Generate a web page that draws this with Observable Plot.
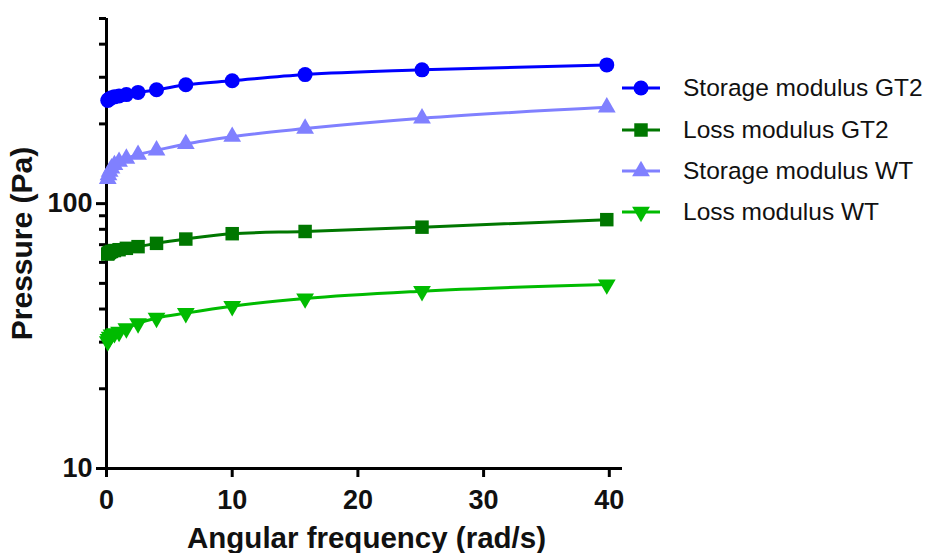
<!DOCTYPE html>
<html><head><meta charset="utf-8">
<script src="https://cdn.jsdelivr.net/npm/d3@7"></script>
<script src="https://cdn.jsdelivr.net/npm/@observablehq/plot@0.6"></script>
<style>
body{margin:0;background:#fff;font-family:"Liberation Sans",Arial,sans-serif;}
#wrap{position:relative;width:934px;height:553px;overflow:hidden;}
.item{position:absolute;left:622px;display:flex;align-items:center;white-space:nowrap;font-size:24.5px;color:#111;height:30px;}
.item span{margin-left:21px;}
</style></head><body><div id="wrap"></div>
<script>
const freq = [0.1, 0.158, 0.251, 0.398, 0.631, 1, 1.58, 2.51, 3.98, 6.31, 10, 15.8, 25.1, 39.8];
const storageGT2 = [245, 247, 249, 251, 253, 255, 258, 263, 269, 281, 291, 307, 320, 334];
const lossGT2 = [64.5, 65, 65.5, 66, 66.5, 67, 67.8, 68.8, 70.8, 73.5, 77, 78.5, 81.5, 87];
const storageWT = [124, 128, 132, 136, 140, 144, 148, 153, 159, 168, 179, 192, 210, 231];
const lossWT = [30.2, 30.8, 31.4, 32, 32.4, 32.8, 33.8, 35.3, 37, 38.6, 41, 43.8, 46.7, 49.5];

const seriesNames = ["Storage modulus GT2", "Loss modulus GT2", "Storage modulus WT", "Loss modulus WT"];
const seriesValues = [storageGT2, lossGT2, storageWT, lossWT];
const seriesColors = ["#0000ff", "#007700", "#8080ff", "#00bb00"];
const seriesSymbols = ["circle", "square", "triangle", "triangle"];
const seriesRotate = [0, 0, 0, 180];
const seriesR = [7.5, 7.6, 6.6, 6.6];

const xTicks = [0, 10, 20, 30, 40];
const yMajorTicks = [10, 100];
const yMinorTicks = [20, 30, 40, 50, 60, 70, 80, 90, 200, 300, 400, 500];

const xTitle = "Angular frequency (rad/s)";
const yTitle = "Pressure (Pa)";

const marks = [
  Plot.ruleX([0], {stroke: "#000", strokeWidth: 3}),
  Plot.ruleY([10], {stroke: "#000", strokeWidth: 3}),
  Plot.axisX({ticks: xTicks, tickSize: 9, tickPadding: 12, strokeWidth: 3, fontSize: 27, fontWeight: "bold", fill: "#111", label: null}),
  Plot.axisY({ticks: yMajorTicks, tickSize: 10, tickPadding: 4, strokeWidth: 3, tickFormat: d => String(d), fontSize: 27, fontWeight: "bold", fill: "#111", label: null}),
  Plot.axisY(yMinorTicks, {tickSize: 7, strokeWidth: 3, stroke: "#000", fill: "none", label: null}),
  Plot.text([xTitle], {frameAnchor: "bottom", lineAnchor: "middle", textAnchor: "middle", dy: 70, dx: 2, fontSize: 29.5, fontWeight: "bold", fill: "#111"}),
  Plot.text([yTitle], {frameAnchor: "left", lineAnchor: "middle", textAnchor: "middle", rotate: -90, dx: -84, fontSize: 30, fontWeight: "bold", fill: "#111"})
];

seriesNames.forEach((name, k) => {
  const rows = freq.map((f, i) => ({f, v: seriesValues[k][i]}));
  marks.push(Plot.line(rows, {x: "f", y: "v", stroke: seriesColors[k], strokeWidth: 3, curve: "monotone-x"}));
});
seriesNames.forEach((name, k) => {
  const rows = freq.map((f, i) => ({f, v: seriesValues[k][i]}));
  marks.push(Plot.dot(rows, {x: "f", y: "v", fill: seriesColors[k], stroke: "none", symbol: seriesSymbols[k], r: seriesR[k], rotate: seriesRotate[k]}));
});

const chart = Plot.plot({
  width: 934, height: 553,
  marginLeft: 106, marginRight: 312, marginTop: 18, marginBottom: 85,
  style: {fontFamily: '"Liberation Sans", Arial, sans-serif', background: "#fff", overflow: "visible"},
  x: {domain: [0, 41.05]},
  y: {type: "log", domain: [10, 500]},
  marks
});
const wrap = document.getElementById("wrap");
wrap.appendChild(chart);

const legendY = [88, 130, 171, 212];
seriesNames.forEach((name, k) => {
  const item = document.createElement("div");
  item.className = "item";
  item.style.top = (legendY[k] - 15) + "px";
  const svg = d3.create("svg").attr("width", 40).attr("height", 30);
  svg.append("line").attr("x1", 0).attr("x2", 38).attr("y1", 15).attr("y2", 15)
    .attr("stroke", seriesColors[k]).attr("stroke-width", 3);
  const symMap = {circle: d3.symbolCircle, square: d3.symbolSquare, triangle: d3.symbolTriangle};
  svg.append("path")
    .attr("d", d3.symbol(symMap[seriesSymbols[k]], Math.PI * seriesR[k] * seriesR[k])())
    .attr("transform", `translate(19,15) rotate(${seriesRotate[k]})`)
    .attr("fill", seriesColors[k]);
  item.appendChild(svg.node());
  const span = document.createElement("span");
  span.textContent = name;
  item.appendChild(span);
  wrap.appendChild(item);
});
</script></body></html>
